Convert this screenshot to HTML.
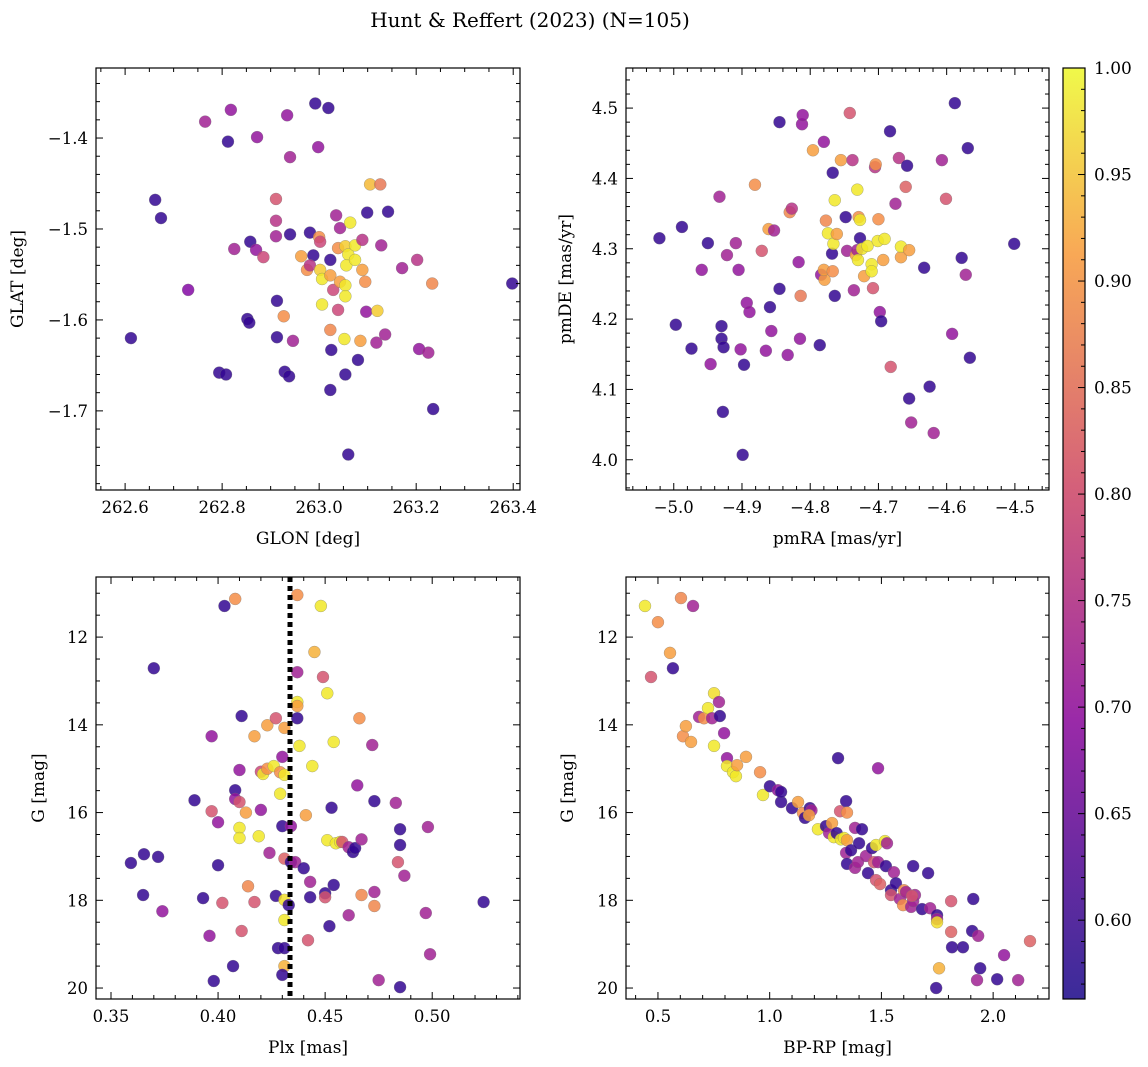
<!DOCTYPE html>
<html><head><meta charset="utf-8"><style>
html,body{margin:0;padding:0;background:#fff;}
svg{display:block;font-family:"DejaVu Serif","Liberation Serif",serif;}
</style></head><body>
<svg id="fig" width="1148" height="1067" viewBox="0 0 1148 1067">
<defs>
<linearGradient id="cbgrad" x1="0" y1="1" x2="0" y2="0">
<stop offset="0" stop-color="#3b2b9a"/><stop offset="0.3" stop-color="#9a2aa8"/><stop offset="0.55" stop-color="#d4607a"/><stop offset="0.8" stop-color="#f8a856"/><stop offset="1" stop-color="#f0f94a"/>
</linearGradient>
</defs>
<text x="530" y="27" font-size="20" text-anchor="middle">Hunt &amp; Reffert (2023) (N=105)</text>
</svg>
<script>
const p1x=[262.612,262.662,262.674,262.730,262.765,262.818,262.812,262.825,262.858,262.870,262.872,262.885,262.852,262.856,262.794,262.808,262.913,262.913,262.911,262.911,262.911,262.927,262.929,262.938,262.934,262.940,262.940,262.946,262.963,262.992,263.019,262.998,262.981,262.988,262.975,262.981,263.000,263.002,263.023,263.002,263.006,263.006,263.023,263.029,263.023,263.025,263.023,263.035,263.043,263.039,263.054,263.060,263.056,263.043,263.054,263.054,263.039,263.052,263.054,263.060,263.064,263.074,263.074,263.085,263.080,263.089,263.089,263.095,263.097,263.099,263.105,263.126,263.120,263.118,263.136,263.128,263.142,263.171,263.202,263.206,263.225,263.233,263.235,263.398];
const p1y=[-1.620,-1.468,-1.488,-1.567,-1.382,-1.369,-1.404,-1.522,-1.514,-1.523,-1.399,-1.531,-1.599,-1.603,-1.658,-1.660,-1.579,-1.619,-1.467,-1.491,-1.508,-1.596,-1.657,-1.662,-1.375,-1.421,-1.506,-1.623,-1.530,-1.362,-1.367,-1.410,-1.504,-1.529,-1.545,-1.540,-1.509,-1.514,-1.534,-1.545,-1.555,-1.583,-1.551,-1.567,-1.611,-1.633,-1.677,-1.485,-1.499,-1.521,-1.519,-1.528,-1.540,-1.558,-1.562,-1.574,-1.589,-1.621,-1.660,-1.748,-1.493,-1.534,-1.518,-1.623,-1.644,-1.512,-1.545,-1.558,-1.591,-1.482,-1.451,-1.451,-1.590,-1.625,-1.616,-1.518,-1.481,-1.543,-1.534,-1.632,-1.636,-1.560,-1.698,-1.560];
const p1c=[0.60,0.60,0.60,0.68,0.72,0.70,0.60,0.72,0.60,0.70,0.70,0.78,0.60,0.60,0.60,0.60,0.60,0.60,0.80,0.75,0.72,0.88,0.60,0.60,0.70,0.72,0.60,0.72,0.90,0.60,0.60,0.70,0.60,0.60,0.88,0.75,0.88,0.78,0.60,0.95,0.98,0.98,0.90,0.78,0.87,0.60,0.60,0.72,0.72,0.88,0.95,0.98,0.98,0.90,0.98,0.98,0.78,0.98,0.60,0.60,0.98,0.98,0.98,0.90,0.60,0.75,0.90,0.88,0.70,0.60,0.93,0.85,0.95,0.72,0.72,0.72,0.60,0.72,0.75,0.70,0.72,0.87,0.60,0.60];

const p2x=[-5.021,-4.988,-4.997,-4.974,-4.959,-4.950,-4.946,-4.933,-4.930,-4.930,-4.927,-4.928,-4.922,-4.909,-4.905,-4.902,-4.897,-4.899,-4.893,-4.889,-4.881,-4.871,-4.865,-4.861,-4.859,-4.857,-4.853,-4.845,-4.845,-4.833,-4.830,-4.827,-4.817,-4.815,-4.814,-4.812,-4.811,-4.796,-4.786,-4.784,-4.780,-4.779,-4.780,-4.777,-4.774,-4.768,-4.767,-4.767,-4.766,-4.764,-4.764,-4.761,-4.755,-4.748,-4.746,-4.742,-4.738,-4.736,-4.733,-4.731,-4.731,-4.730,-4.729,-4.727,-4.727,-4.724,-4.721,-4.716,-4.710,-4.710,-4.708,-4.705,-4.704,-4.701,-4.700,-4.698,-4.696,-4.693,-4.691,-4.683,-4.682,-4.675,-4.670,-4.667,-4.667,-4.660,-4.658,-4.655,-4.655,-4.652,-4.633,-4.625,-4.619,-4.607,-4.601,-4.592,-4.588,-4.578,-4.572,-4.569,-4.566,-4.501];
const p2y=[4.315,4.331,4.192,4.158,4.270,4.308,4.136,4.374,4.190,4.172,4.160,4.068,4.291,4.308,4.270,4.157,4.135,4.007,4.223,4.210,4.391,4.297,4.155,4.328,4.217,4.183,4.326,4.243,4.480,4.149,4.352,4.357,4.281,4.172,4.233,4.477,4.490,4.440,4.163,4.263,4.452,4.256,4.270,4.340,4.322,4.293,4.268,4.408,4.307,4.233,4.369,4.321,4.426,4.345,4.297,4.493,4.426,4.241,4.291,4.384,4.298,4.284,4.345,4.341,4.315,4.300,4.261,4.304,4.278,4.268,4.244,4.416,4.420,4.311,4.342,4.210,4.197,4.284,4.314,4.467,4.132,4.364,4.429,4.288,4.303,4.388,4.418,4.087,4.298,4.053,4.273,4.104,4.038,4.426,4.371,4.179,4.507,4.287,4.263,4.443,4.145,4.307];
const p2c=[0.60,0.60,0.60,0.60,0.70,0.60,0.70,0.72,0.60,0.60,0.60,0.60,0.72,0.72,0.70,0.70,0.60,0.60,0.70,0.70,0.88,0.80,0.70,0.90,0.60,0.70,0.72,0.60,0.60,0.70,0.87,0.75,0.70,0.70,0.85,0.70,0.70,0.90,0.60,0.70,0.70,0.90,0.90,0.87,0.98,0.60,0.88,0.60,0.98,0.60,0.98,0.90,0.90,0.60,0.72,0.80,0.75,0.72,0.90,0.98,0.72,0.98,0.88,0.98,0.60,0.98,0.90,0.98,0.98,0.98,0.80,0.75,0.88,0.98,0.88,0.70,0.60,0.90,0.98,0.60,0.80,0.72,0.75,0.90,0.98,0.82,0.60,0.60,0.90,0.72,0.60,0.60,0.72,0.72,0.80,0.70,0.60,0.60,0.72,0.60,0.60,0.60];

const p3x=[0.3593,0.3654,0.372,0.365,0.370,0.374,0.389,0.393,0.396,0.397,0.397,0.398,0.400,0.402,0.400,0.403,0.408,0.407,0.408,0.408,0.410,0.410,0.411,0.410,0.410,0.411,0.413,0.414,0.417,0.417,0.419,0.420,0.420,0.421,0.423,0.423,0.424,0.426,0.427,0.427,0.428,0.429,0.429,0.430,0.430,0.431,0.431,0.431,0.431,0.431,0.431,0.431,0.430,0.433,0.434,0.434,0.436,0.437,0.437,0.437,0.437,0.438,0.437,0.440,0.442,0.441,0.443,0.443,0.444,0.445,0.448,0.449,0.450,0.450,0.451,0.451,0.452,0.453,0.454,0.455,0.454,0.457,0.458,0.461,0.461,0.463,0.464,0.465,0.466,0.467,0.467,0.472,0.473,0.473,0.473,0.475,0.483,0.484,0.485,0.485,0.485,0.487,0.497,0.498,0.499,0.524];
const p3y=[17.15,16.95,17.01,17.88,12.71,18.25,15.72,17.95,18.81,15.97,14.26,19.84,16.22,18.06,17.20,11.29,11.13,19.50,15.49,15.69,15.76,15.03,13.80,16.35,16.58,18.70,16.00,17.68,18.04,14.26,16.54,15.94,15.07,15.12,15.00,14.01,16.92,14.94,13.85,17.90,19.09,15.57,15.08,14.73,16.31,14.07,17.05,15.14,17.99,18.45,19.09,19.50,19.70,18.11,17.13,16.31,17.13,11.04,12.80,13.48,13.57,14.48,13.85,17.27,18.91,16.06,17.58,17.93,14.94,12.34,11.29,12.91,17.84,17.93,13.28,16.63,18.59,15.89,14.39,16.70,17.65,16.67,16.67,18.34,16.79,16.90,16.81,15.38,13.85,17.88,16.61,14.46,18.13,17.81,15.74,19.82,15.78,17.13,16.38,19.98,16.74,17.44,18.29,16.33,19.23,18.04];
const p3c=[0.60,0.60,0.60,0.60,0.60,0.70,0.60,0.60,0.70,0.80,0.70,0.60,0.70,0.80,0.60,0.60,0.88,0.60,0.60,0.70,0.80,0.70,0.60,0.98,0.98,0.80,0.90,0.87,0.80,0.90,0.98,0.70,0.78,0.98,0.88,0.90,0.72,0.98,0.80,0.60,0.60,0.98,0.88,0.70,0.60,0.90,0.82,0.98,0.97,0.98,0.60,0.92,0.60,0.60,0.60,0.70,0.72,0.88,0.72,0.98,0.90,0.98,0.60,0.60,0.80,0.90,0.72,0.60,0.98,0.92,0.98,0.80,0.60,0.80,0.98,0.98,0.60,0.60,0.98,0.98,0.60,0.98,0.80,0.72,0.72,0.60,0.60,0.70,0.88,0.87,0.72,0.72,0.87,0.72,0.60,0.72,0.72,0.80,0.60,0.60,0.60,0.72,0.72,0.72,0.72,0.60];

const p4x=[0.442,0.500,0.469,0.554,0.567,0.603,0.657,0.612,0.625,0.648,0.684,0.706,0.724,0.742,0.751,0.751,0.773,0.777,0.796,0.809,0.809,0.836,0.849,0.854,0.894,0.957,0.970,1.001,1.037,1.051,1.051,1.100,1.127,1.149,1.158,1.180,1.187,1.176,1.216,1.252,1.266,1.279,1.287,1.300,1.315,1.306,1.319,1.333,1.342,1.342,1.346,1.346,1.346,1.364,1.382,1.382,1.395,1.400,1.413,1.431,1.440,1.458,1.467,1.476,1.476,1.485,1.485,1.494,1.516,1.520,1.525,1.543,1.543,1.556,1.565,1.583,1.597,1.601,1.610,1.633,1.642,1.642,1.650,1.637,1.682,1.709,1.718,1.749,1.749,1.749,1.758,1.745,1.812,1.812,1.816,1.865,1.906,1.911,1.928,1.933,1.942,2.018,2.049,2.112,2.165];
const p4y=[11.29,11.66,12.91,12.36,12.71,11.11,11.29,14.26,14.03,14.39,13.82,13.85,13.62,13.85,13.28,14.48,13.48,13.80,14.19,14.76,14.94,15.08,15.17,14.92,14.73,15.08,15.60,15.40,15.49,15.76,15.53,15.90,15.76,16.01,16.12,15.90,15.95,16.06,16.38,16.31,16.47,16.24,16.56,16.47,15.97,14.76,16.61,16.58,15.74,16.92,17.17,16.00,16.63,16.86,17.26,16.35,17.13,16.70,16.38,16.99,17.38,16.81,17.13,16.74,17.54,14.99,17.13,17.63,16.65,17.22,16.70,17.77,17.88,17.36,17.61,17.97,18.11,17.77,17.81,18.15,17.22,18.02,17.88,17.90,18.20,17.38,18.18,18.34,18.43,18.50,19.55,20.00,18.02,18.72,19.07,19.07,18.70,17.97,19.82,18.81,19.55,19.80,19.25,19.82,18.93];
const p4c=[0.98,0.88,0.80,0.90,0.60,0.87,0.72,0.88,0.90,0.90,0.72,0.88,0.98,0.72,0.97,0.98,0.72,0.60,0.70,0.70,0.98,0.98,0.98,0.90,0.90,0.88,0.98,0.60,0.70,0.60,0.60,0.60,0.90,0.88,0.60,0.60,0.72,0.90,0.98,0.60,0.72,0.90,0.98,0.60,0.80,0.60,0.98,0.98,0.60,0.72,0.60,0.88,0.90,0.60,0.72,0.72,0.72,0.60,0.60,0.72,0.60,0.60,0.80,0.98,0.80,0.70,0.72,0.82,0.98,0.60,0.72,0.60,0.80,0.72,0.60,0.72,0.88,0.88,0.72,0.72,0.60,0.72,0.72,0.80,0.60,0.60,0.72,0.60,0.72,0.97,0.92,0.60,0.80,0.82,0.60,0.60,0.60,0.60,0.72,0.72,0.60,0.60,0.70,0.72,0.82];

const cbTicks=[0.60,0.65,0.70,0.75,0.80,0.85,0.90,0.95,1.00];
const dotLinePlx=[0.4336];

const NS="http://www.w3.org/2000/svg";
const svg=document.getElementById('fig');
function mk(tag,attrs,parent){const e=document.createElementNS(NS,tag);for(const k in attrs)e.setAttribute(k,attrs[k]);(parent||svg).appendChild(e);return e;}

const stops=[[0,[13,8,135]],[0.25,[126,3,168]],[0.5,[204,71,120]],[0.75,[248,149,64]],[1,[240,249,33]]];
const CMIN=0.563,CMAX=1.0;
function cmap(v){let t=(v-CMIN)/(CMAX-CMIN);t=Math.max(0,Math.min(1,t));
 for(let i=0;i<stops.length-1;i++){const a=stops[i],b=stops[i+1];if(t<=b[0]){const f=(t-a[0])/(b[0]-a[0]);const c=a[1].map((x,j)=>Math.round(x+(b[1][j]-x)*f));return `rgb(${c})`;}}
 return 'rgb(240,249,33)';}

function panel(o){
 const g=mk('g',{});
 
 
 const sx=v=>o.x0+(v-o.xmin)/(o.xmax-o.xmin)*(o.x1-o.x0);
 const sy=v=>o.inv? o.y0+(v-o.ymin)/(o.ymax-o.ymin)*(o.y1-o.y0) : o.y1-(v-o.ymin)/(o.ymax-o.ymin)*(o.y1-o.y0);
 for(let i=0;i<o.xs.length;i++){
  const c=mk('circle',{cx:sx(o.xs[i]),cy:sy(o.ys[i]),r:6,fill:cmap(o.cs[i]),'fill-opacity':0.85,stroke:'#777','stroke-width':0.5,'stroke-opacity':0.6},g);
  
  
 }
 if(o.extra)o.extra(g,sx,sy);
 const f=mk('rect',{x:o.x0,y:o.y0,width:o.x1-o.x0,height:o.y1-o.y0,fill:'none',stroke:'#000','stroke-width':1.2},g);
 
 
 const eps=1e-9;
 for(let v=Math.ceil(o.xmin/o.xminor-eps)*o.xminor;v<=o.xmax+eps;v+=o.xminor){
  const px=sx(v);const isMaj=Math.abs(v/o.xmajor-Math.round(v/o.xmajor))<1e-6;const L=isMaj?7:4;
  mk('line',{x1:px,x2:px,y1:o.y1,y2:o.y1-L,stroke:'#000','stroke-width':1},g);
  mk('line',{x1:px,x2:px,y1:o.y0,y2:o.y0+L,stroke:'#000','stroke-width':1},g);
  if(isMaj){const t=mk('text',{x:px,y:o.y1+23,'font-size':16.5,'text-anchor':'middle'},g);t.textContent=o.xfmt(v).replace('-','\u2212');
   }
 }
 for(let v=Math.ceil(o.ymin/o.yminor-eps)*o.yminor;v<=o.ymax+eps;v+=o.yminor){
  const py=sy(v);const isMaj=Math.abs(v/o.ymajor-Math.round(v/o.ymajor))<1e-6;const L=isMaj?7:4;
  mk('line',{x1:o.x0,x2:o.x0+L,y1:py,y2:py,stroke:'#000','stroke-width':1},g);
  mk('line',{x1:o.x1,x2:o.x1-L,y1:py,y2:py,stroke:'#000','stroke-width':1},g);
  if(isMaj){const t=mk('text',{x:o.x0-8,y:py+6,'font-size':16.5,'text-anchor':'end'},g);t.textContent=o.yfmt(v).replace('-','\u2212');
   }
 }
 const xl=mk('text',{x:(o.x0+o.x1)/2,y:o.y1+54,'font-size':17,'text-anchor':'middle'},g);xl.textContent=o.xlabel;
 
 const yx=o.ylx,yy=(o.y0+o.y1)/2;
 const yl=mk('text',{x:yx,y:yy,'font-size':17,'text-anchor':'middle',transform:`rotate(-90 ${yx} ${yy})`},g);yl.textContent=o.ylabel;
 
}
const f1=v=>v.toFixed(1),f2=v=>v.toFixed(2),f0=v=>v.toFixed(0);
panel({name:'glon-glat-panel',x0:96,x1:520,y0:68,y1:490,xmin:262.540,xmax:263.414,ymin:-1.787,ymax:-1.323,
 xmajor:0.2,xminor:0.05,ymajor:0.1,yminor:0.02,xfmt:f1,yfmt:f1,xs:p1x,ys:p1y,cs:p1c,xlabel:'GLON [deg]',ylabel:'GLAT [deg]',ylx:23});
panel({name:'proper-motion-panel',x0:626,x1:1049,y0:68,y1:490,xmin:-5.070,xmax:-4.450,ymin:3.957,ymax:4.557,
 xmajor:0.1,xminor:0.02,ymajor:0.1,yminor:0.02,xfmt:f1,yfmt:f1,xs:p2x,ys:p2y,cs:p2c,xlabel:'pmRA [mas/yr]',ylabel:'pmDE [mas/yr]',ylx:571});
panel({name:'parallax-mag-panel',x0:96,x1:520,y0:577,y1:999,xmin:0.343,xmax:0.541,ymin:10.63,ymax:20.25,inv:true,
 xmajor:0.05,xminor:0.01,ymajor:2,yminor:0.5,xfmt:f2,yfmt:f0,xs:p3x,ys:p3y,cs:p3c,xlabel:'Plx [mas]',ylabel:'G [mag]',ylx:44,
 extra:(g,sx,sy)=>{for(const v of dotLinePlx){const l=mk('line',{x1:sx(v),x2:sx(v),y1:577,y2:999,stroke:'#000','stroke-width':5,'stroke-dasharray':'5 4'},g);
  }}});
panel({name:'cmd-panel',x0:626,x1:1049,y0:577,y1:999,xmin:0.357,xmax:2.250,ymin:10.63,ymax:20.25,inv:true,
 xmajor:0.5,xminor:0.1,ymajor:2,yminor:0.5,xfmt:f1,yfmt:f0,xs:p4x,ys:p4y,cs:p4c,xlabel:'BP-RP [mag]',ylabel:'G [mag]',ylx:573});

const cb=mk('g',{});


const cy=v=>999-(v-CMIN)/(CMAX-CMIN)*(999-68);
mk('rect',{x:1063,y:68,width:22,height:931,fill:'url(#cbgrad)',stroke:'#000','stroke-width':1.2},cb);
for(let k=Math.ceil(CMIN*100);k<=100;k++){const v=k/100;const maj=k%5===0;
 mk('line',{x1:1085,x2:1085-(maj?7:4),y1:cy(v),y2:cy(v),stroke:'#000','stroke-width':1},cb);}
for(const v of cbTicks){const t=mk('text',{x:1094,y:cy(v)+6,'font-size':17},cb);t.textContent=v.toFixed(2);
 }
</script>
</body></html>
